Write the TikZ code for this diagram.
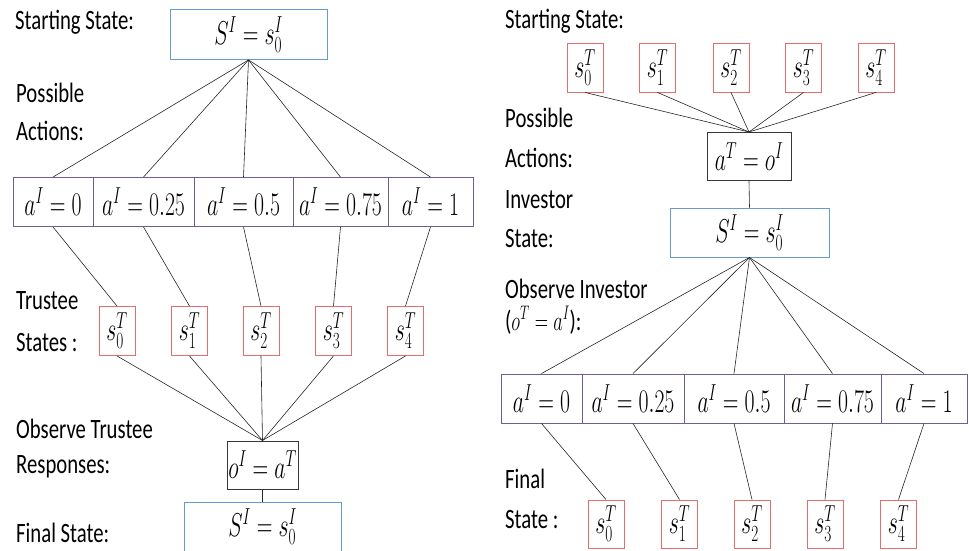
\documentclass[tikz,border=0pt]{standalone}
\usepackage{fix-cm}
\usepackage{graphicx}
\usepackage{fontspec}
\setmainfont[FakeStretch=0.74]{Carlito}
\definecolor{stateblue}{RGB}{100,155,210}
\definecolor{trusteered}{RGB}{226,110,110}
\definecolor{actpurple}{RGB}{112,92,152}
\definecolor{obsgray}{RGB}{55,55,55}
\newcommand{\mth}[1]{\scalebox{0.66}[1]{$#1$}}
\tikzset{
    lbl/.style={anchor=base west,inner sep=0pt,align=left,font=\fontsize{28}{#1}\selectfont},
    lbl/.default=38,
    mbox/.style={inner sep=0pt,line width=0.9pt,font=\fontsize{33}{33}\selectfont},
    statebox/.style={mbox,draw=stateblue,minimum width=157pt,minimum height=50pt},
    trbox/.style={mbox,draw=trusteered,minimum width=36pt,minimum height=49pt},
    actbox/.style={mbox,draw=actpurple,minimum height=49pt},
    obsbox/.style={mbox,draw=obsgray,line width=1pt,minimum height=48pt},
    link/.style={line width=0.6pt,black!85}
}

\begin{document}
\begin{tikzpicture}[x=1pt,y=-1pt]
    \clip (0,0) rectangle (969,550);

    % investor tree (left)
    \node[lbl] (startLblL) at (15,29) {Starting State:};
    \node[lbl=38] (actLblL) at (16,140) {Possible\\Actions:};
    \node[lbl=42] (trLblL) at (16,351) {Trustee\\States :};
    \node[lbl=35] (obsLblL) at (16,473) {Observe Trustee\\Responses:};
    \node[lbl] (finLblL) at (16,542) {Final State:};

    \node[statebox] (startL) at (248.5,34.5) {\mth{S^I = s_0^I}};
    \foreach \i/\x/\w/\v in {0/53/80/0,1/143.5/101/0.25,2/243.5/99/0.5,3/340.5/95/0.75,4/430.5/85/1}
    {
        \node[actbox,minimum width=\w pt] (aL\i) at (\x,202) {\mth{a^I = \v}};
        \draw[link] (startL.south) -- (aL\i.north);
    }
    \foreach \i/\x in {0/117,1/189.5,2/261,3/333.5,4/405.5}
    {
        \node[trbox] (tL\i) at (\x,331) {\mth{s_{\i}^T}};
        \draw[link] (aL\i.south) -- (tL\i.north);
    }
    \node[obsbox,minimum width=71pt] (obsL) at (262.5,465) {\mth{o^I = a^T}};
    \foreach \i in {0,...,4}
        \draw[link] (tL\i.south) -- (obsL.north);
    \node[statebox] (finalL) at (262.5,527) {\mth{S^I = s_0^I}};
    \draw[link] (obsL.south) -- (finalL.north);

    % trustee tree (right)
    \node[lbl] (startLblR) at (505,28) {Starting State:};
    \node[lbl=40] (actLblR) at (505,167) {Possible\\Actions:};
    \node[lbl=39] (invLblR) at (505,247) {Investor\\State:};
    \node[lbl=32] (obsLblR) at (505,330) {Observe Investor\\(\mth{\fontsize{32}{32}\selectfont o^T = a^I}):};
    \node[lbl=40] (finLblR) at (505,528) {Final\\State :};

    \foreach \i/\x in {0/585,1/657.5,2/731,3/803.5,4/876}
        \node[trbox] (tR\i) at (\x,67.5) {\mth{s_{\i}^T}};
    \node[obsbox,minimum width=84pt] (actT) at (749,156.5) {\mth{a^T = o^I}};
    \foreach \i in {0,...,4}
        \draw[link] (tR\i.south) -- (actT.north);
    \node[statebox,minimum width=159pt,minimum height=49pt] (invR) at (749.5,232.5) {\mth{S^I = s_0^I}};
    \draw[link] (actT.south) -- (invR.north);
    \foreach \i/\x/\w/\v/\fx in {0/541.5/81/0/606,1/633/102/0.25/679.5,2/734/100/0.5/752,3/832.5/97/0.75/825,4/924/86/1/898.5}
    {
        \node[actbox,minimum width=\w pt] (aR\i) at (\x,398.5) {\mth{a^I = \v}};
        \node[trbox,minimum height=48pt] (fR\i) at (\fx,524) {\mth{s_{\i}^T}};
        \draw[link] (invR.south) -- (aR\i.north);
        \draw[link] (aR\i.south) -- (fR\i.north);
    }
\end{tikzpicture}
\end{document}
